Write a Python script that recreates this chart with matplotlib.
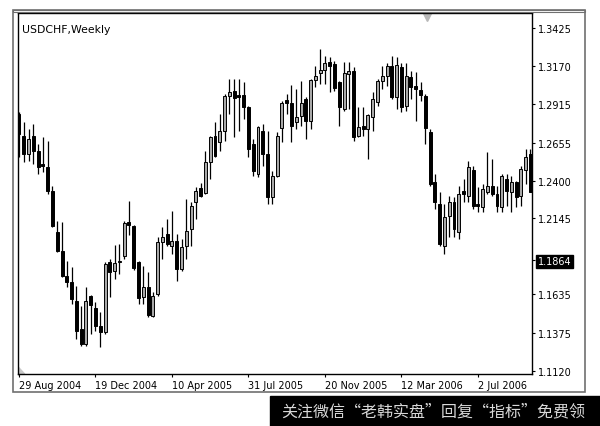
import numpy as np
import pandas as pd
import matplotlib
matplotlib.use('Agg')
import matplotlib.pyplot as plt
from matplotlib.patches import Rectangle, Polygon

# Weekly USDCHF candles (first bar: week of 29 Aug 2004)
opens = [
    1.2847, 1.2699, 1.2578, 1.2699, 1.2599, 1.2511, 1.2491, 1.2330, 1.2054, 1.1927,
    1.1759, 1.1718, 1.1591, 1.1402, 1.1302, 1.1624, 1.1544, 1.1423, 1.1382, 1.1853,
    1.1792, 1.1853, 1.1893, 1.2121, 1.2095, 1.1853, 1.1617, 1.1685, 1.1490, 1.1638,
    1.1987, 1.2041, 1.1960, 1.1994, 1.1806, 1.1960, 1.2074, 1.2256, 1.2350, 1.2316,
    1.2525, 1.2699, 1.2659, 1.2733, 1.2968, 1.3002, 1.2975, 1.2975, 1.2894, 1.2646,
    1.2444, 1.2733, 1.2578, 1.2289, 1.2431, 1.2753, 1.2941, 1.2921, 1.2793, 1.2834,
    1.2948, 1.2800, 1.3076, 1.3123, 1.3143, 1.3197, 1.3183, 1.3062, 1.2881, 1.3116,
    1.3136, 1.2699, 1.2767, 1.2746, 1.2827, 1.2928, 1.3069, 1.3103, 1.3170, 1.2961,
    1.3163, 1.2901, 1.3096, 1.3035, 1.3008, 1.2968, 1.2726, 1.2390, 1.2242, 1.1960,
    1.2162, 1.2256, 1.2054, 1.2330, 1.2296, 1.2471, 1.2242, 1.2222, 1.2323, 1.2363,
    1.2310, 1.2222, 1.2410, 1.2323, 1.2390, 1.2296, 1.2471, 1.2578]
highs = [
    1.2861, 1.2793, 1.2746, 1.2780, 1.2646, 1.2693, 1.2666, 1.2363, 1.2128, 1.2121,
    1.1859, 1.1819, 1.1691, 1.1557, 1.1685, 1.1628, 1.1584, 1.1517, 1.1853, 1.1873,
    1.1967, 1.1974, 1.2128, 1.2263, 1.2101, 1.1859, 1.1826, 1.1785, 1.1651, 1.2021,
    1.2088, 1.2142, 1.2195, 1.2041, 1.2007, 1.2276, 1.2256, 1.2357, 1.2384, 1.2599,
    1.2699, 1.2793, 1.2847, 1.2982, 1.3082, 1.3082, 1.3082, 1.3062, 1.2901, 1.2679,
    1.2767, 1.2780, 1.2733, 1.2464, 1.2726, 1.2935, 1.2982, 1.3042, 1.3015, 1.3069,
    1.2961, 1.3082, 1.3170, 1.3284, 1.3237, 1.3230, 1.3203, 1.3069, 1.3197, 1.3197,
    1.3163, 1.2894, 1.2894, 1.2847, 1.2995, 1.3082, 1.3170, 1.3190, 1.3237, 1.3230,
    1.3190, 1.3190, 1.3136, 1.3129, 1.3062, 1.2982, 1.2746, 1.2444, 1.2323, 1.2242,
    1.2296, 1.2289, 1.2363, 1.2410, 1.2531, 1.2498, 1.2357, 1.2377, 1.2592, 1.2545,
    1.2363, 1.2444, 1.2444, 1.2431, 1.2397, 1.2498, 1.2612, 1.2612]
lows = [
    1.2558, 1.2525, 1.2531, 1.2511, 1.2444, 1.2457, 1.2310, 1.2090, 1.1920, 1.1755,
    1.1685, 1.1570, 1.1335, 1.1288, 1.1288, 1.1369, 1.1389, 1.1281, 1.1369, 1.1617,
    1.1738, 1.1772, 1.1873, 1.2034, 1.1799, 1.1570, 1.1570, 1.1483, 1.1483, 1.1624,
    1.1873, 1.1960, 1.1906, 1.1725, 1.1792, 1.1873, 1.1960, 1.2142, 1.2289, 1.2310,
    1.2410, 1.2558, 1.2599, 1.2666, 1.2847, 1.2693, 1.2733, 1.2814, 1.2558, 1.2431,
    1.2424, 1.2498, 1.2242, 1.2242, 1.2424, 1.2659, 1.2847, 1.2659, 1.2746, 1.2767,
    1.2679, 1.2746, 1.3029, 1.3049, 1.3049, 1.2995, 1.3002, 1.2767, 1.2867, 1.2881,
    1.2666, 1.2693, 1.2699, 1.2545, 1.2733, 1.2901, 1.3015, 1.3035, 1.2948, 1.2881,
    1.2861, 1.2867, 1.2948, 1.2800, 1.2935, 1.2646, 1.2363, 1.2209, 1.1960, 1.1906,
    1.2021, 1.2021, 1.2007, 1.2256, 1.2256, 1.2209, 1.2189, 1.2189, 1.2310, 1.2296,
    1.2189, 1.2189, 1.2229, 1.2189, 1.2222, 1.2229, 1.2377, 1.2320]
closes = [
    1.2713, 1.2578, 1.2679, 1.2599, 1.2491, 1.2498, 1.2330, 1.2095, 1.1927, 1.1759,
    1.1718, 1.1604, 1.1389, 1.1302, 1.1591, 1.1564, 1.1423, 1.1382, 1.1839, 1.1785,
    1.1846, 1.1860, 1.2115, 1.2101, 1.1812, 1.1611, 1.1685, 1.1496, 1.1624, 1.1987,
    1.2021, 1.1974, 1.1994, 1.1806, 1.1953, 1.2061, 1.2229, 1.2330, 1.2296, 1.2525,
    1.2693, 1.2565, 1.2733, 1.2968, 1.2995, 1.2955, 1.2961, 1.2894, 1.2612, 1.2464,
    1.2760, 1.2578, 1.2289, 1.2431, 1.2699, 1.2921, 1.2921, 1.2767, 1.2827, 1.2921,
    1.2800, 1.3076, 1.3103, 1.3143, 1.3190, 1.3170, 1.3022, 1.2894, 1.3123, 1.3136,
    1.2693, 1.2760, 1.2746, 1.2840, 1.2948, 1.3069, 1.3103, 1.3170, 1.2961, 1.3176,
    1.2894, 1.3103, 1.3029, 1.3015, 1.2975, 1.2753, 1.2377, 1.2256, 1.1974, 1.2155,
    1.2256, 1.2074, 1.2310, 1.2310, 1.2491, 1.2229, 1.2229, 1.2343, 1.2363, 1.2310,
    1.2229, 1.2431, 1.2330, 1.2390, 1.2289, 1.2478, 1.2558, 1.2323]

start_week = '2004-08-29'
label_every = 16
price_ticks = [1.3425, 1.3170, 1.2915, 1.2655, 1.2400, 1.2145, 1.1864, 1.1635, 1.1375, 1.1120]
last_price = 1.1864

o = np.array(opens)
h = np.array(highs)
l = np.array(lows)
c = np.array(closes)
x = np.arange(len(o))
dates = pd.date_range(start_week, periods=len(o), freq='7D')

fig = plt.figure(figsize=(6, 4.27), dpi=100)
ax = fig.add_axes([18 / 600, 52 / 427, 514 / 600, 361 / 427])

# wicks then bodies
ax.vlines(x, l, h, color='black', lw=0.9, zorder=2)
up = c >= o
bottoms = np.minimum(o, c)
heights = np.maximum(np.abs(c - o), 0.0004)
ax.bar(x[up], heights[up], bottom=bottoms[up], width=0.62,
       color='#a8a8a8', edgecolor='black', lw=0.7, zorder=3)
ax.bar(x[~up], heights[~up], bottom=bottoms[~up], width=0.62,
       color='black', edgecolor='black', lw=0.7, zorder=3)

ax.set_xlim(-0.21, 107.32)
ax.set_ylim(1.1100, 1.3526)

# axes ticks, MT4 style
tick_idx = list(range(0, len(o), label_every))
ax.set_xticks(tick_idx)
ax.set_xticklabels([f"{dates[i].day} {dates[i]:%b %Y}" for i in tick_idx],
                   ha='left', fontsize=7)
ax.yaxis.tick_right()
ax.set_yticks(price_ticks)
ax.set_yticklabels([f"{p:.4f}" for p in price_ticks], fontsize=7)
ax.tick_params(axis='x', length=2.5, width=0.8, pad=2)
ax.tick_params(axis='y', length=2, width=0.8, pad=2)
for lab, p in zip(ax.get_yticklabels(), price_ticks):
    if p == last_price:
        lab.set_color('white')
        lab.set_bbox(dict(facecolor='black', edgecolor='black', pad=1.2))
for s in ax.spines.values():
    s.set_linewidth(1.0)
    s.set_color('black')

ax.text(0.008, 0.97, 'USDCHF,Weekly', transform=ax.transAxes,
        fontsize=7.8, va='top', ha='left')

# small markers from the terminal
ax.plot([0.796], [0.99], marker='v', ms=6, color='#b8b8b8',
        transform=ax.transAxes, clip_on=False)
ax.add_patch(Polygon([(0, 0), (0, 0.02), (0.013, 0)], closed=True,
                     transform=ax.transAxes, color='#c8c8c8', zorder=1))

# outer window frame
fig.patches.append(Rectangle((13 / 600, 34 / 427), 572 / 600, 382 / 427,
                             transform=fig.transFigure, fill=False,
                             edgecolor='#707070', lw=1.2))
fig.patches.append(Rectangle((13 / 600, 414 / 427), 572 / 600, 2 / 427,
                             transform=fig.transFigure, fill=False,
                             edgecolor='#707070', lw=0.8))

# watermark banner
fig.patches.append(Rectangle((270 / 600, 0), 330 / 600, 30 / 427,
                             transform=fig.transFigure, color='black'))
fig.text(433 / 600, 15 / 427, '关注微信“老韩实盘”回复“指标”免费领',
         family=['Noto Sans CJK SC', 'DejaVu Sans'], fontsize=11.5,
         color='#d8d8d8', ha='center', va='center')

fig.savefig('out.png', dpi=100)
